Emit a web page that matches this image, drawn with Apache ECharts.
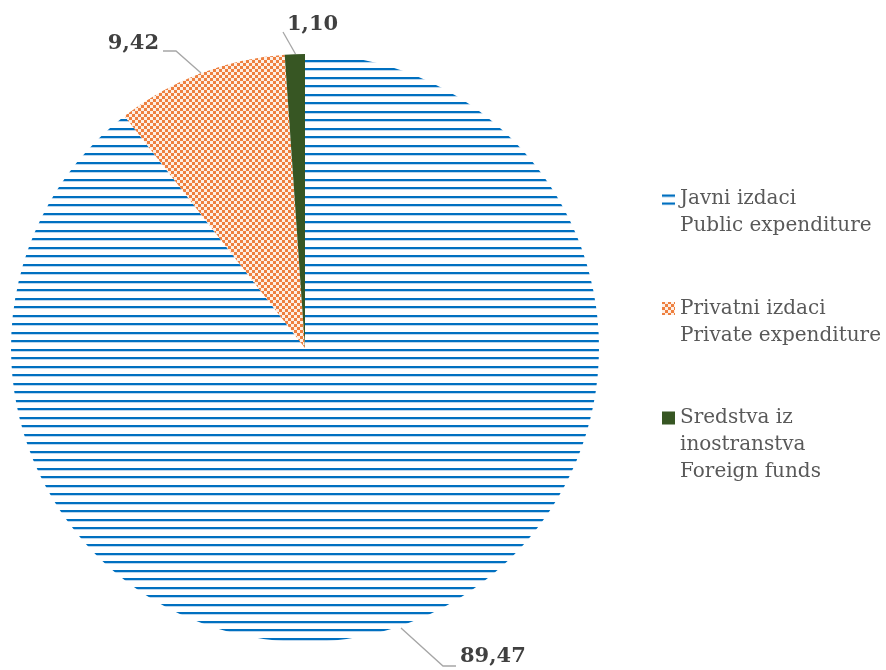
<!DOCTYPE html>
<html>
<head>
<meta charset="utf-8">
<script src="https://cdn.jsdelivr.net/npm/echarts@6.0.0/dist/echarts.min.js"></script>
<style>html,body{margin:0;padding:0;background:#fff}#c{width:886px;height:670px}</style>
</head>
<body>
<div id="c"></div>
<script>
// ---- data ----
const categories = ['Javni izdaci\nPublic expenditure', 'Privatni izdaci\nPrivate expenditure', 'Sredstva iz\ninostranstva\nForeign funds'];
const values = [89.47, 9.42, 1.10];
const labelTexts = values.map(v => v.toFixed(2).replace('.', ','));

// ---- styling / layout ----
function blueHatch() {
  const c = document.createElement('canvas'); c.width = 8; c.height = 17;
  const g = c.getContext('2d');
  g.fillStyle = '#ffffff'; g.fillRect(0, 0, 8, 17);
  g.fillStyle = '#0070C0'; g.fillRect(0, 0, 8, 2); g.fillRect(0, 9, 8, 2);
  g.fillStyle = '#BDD7EE'; g.fillRect(0, 2, 8, 1); g.fillRect(0, 11, 8, 1);
  return c;
}
function orangeCheck() {
  const c = document.createElement('canvas'); c.width = 6; c.height = 6;
  const g = c.getContext('2d');
  g.fillStyle = '#FDF0E6'; g.fillRect(0, 0, 6, 6);
  g.fillStyle = '#EE8040'; g.fillRect(0, 0, 3, 3); g.fillRect(3, 3, 3, 3);
  return c;
}
const fills = [
  { image: blueHatch(), repeat: 'repeat' },
  { image: orangeCheck(), repeat: 'repeat' },
  '#375623'
];
const labelPos = [
  { x: 460, y: 657, align: 'left', line: [[401, 628], [443, 666], [456, 666]] },
  { x: 159, y: 44, align: 'right', line: [[201, 73], [176, 51], [163, 51]] },
  { x: 287, y: 25, align: 'left', line: [[295.5, 54], [283, 32]] }
];
const legendTops = [185.5, 295, 404.5];
const LH = 27;
function iconPath(h) {
  return 'path://M0,0L0.01,0L0.01,0.01Z M0,7L13,7L13,20L0,20Z M0,' + h + 'L0.01,' + h + 'L0.01,' + (h - 0.01) + 'Z';
}

const chart = echarts.init(document.getElementById('c'), null, { renderer: 'canvas' });
chart.setOption({
  animation: false,
  backgroundColor: '#ffffff',
  legend: categories.map((name, i) => {
    const h = name.split('\n').length * LH;
    return {
      data: [name],
      left: 662,
      top: legendTops[i],
      orient: 'vertical',
      padding: 0,
      itemWidth: 13,
      itemHeight: h,
      icon: iconPath(h),
      selectedMode: false,
      itemStyle: { borderWidth: 0 },
      textStyle: { fontFamily: 'DejaVu Serif', fontSize: 20, color: '#595959', lineHeight: LH }
    };
  }),
  series: [{
    type: 'pie',
    center: [305, 348],
    radius: 294,
    startAngle: 90,
    clockwise: true,
    avoidLabelOverlap: false,
    silent: true,
    itemStyle: { borderWidth: 0 },
    data: categories.map((n, i) => ({ name: n, value: values[i], itemStyle: { color: fills[i], borderWidth: 0 } })),
    label: {
      show: true,
      position: 'outside',
      formatter: p => labelTexts[p.dataIndex],
      fontFamily: 'DejaVu Serif',
      fontWeight: 'bold',
      fontSize: 21,
      color: '#404040'
    },
    labelLine: { show: true, lineStyle: { color: '#A6A6A6', width: 1.3 } },
    labelLayout: p => {
      const L = labelPos[p.dataIndex];
      return { x: L.x, y: L.y, align: L.align, verticalAlign: 'middle', labelLinePoints: L.line };
    }
  }]
});
</script>
</body>
</html>
